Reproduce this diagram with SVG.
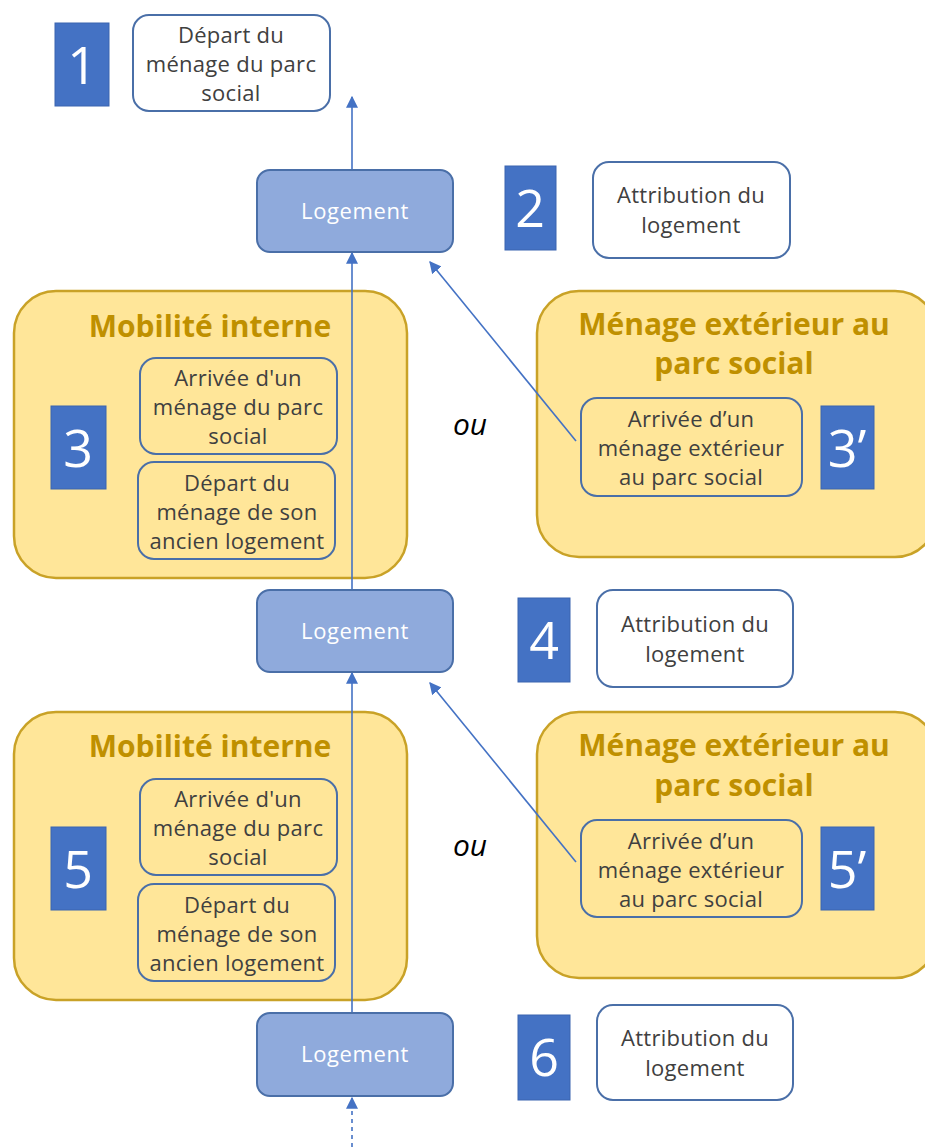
<svg xmlns="http://www.w3.org/2000/svg" width="925" height="1147" viewBox="0 0 925 1147">
<style>
.bg{fill:#ffffff}
.sq{fill:#4472C4;stroke:#3A64B0;stroke-width:1}
.num{font-family:"Open Sans","Noto Sans",sans-serif;font-size:52px;fill:#ffffff;text-anchor:middle}
.wbox{fill:#ffffff;stroke:#4A6FA8;stroke-width:2}
.ibox{fill:#FFE699;stroke:#4A6FA8;stroke-width:2}
.lbox{fill:#8FAADC;stroke:#4A6FA8;stroke-width:2}
.cont{fill:#FFE699;stroke:#C9A227;stroke-width:2.5}
.t{font-family:"Open Sans","Noto Sans",sans-serif;font-size:22px;letter-spacing:0.3px;fill:#404040;text-anchor:middle}
.lt{font-family:"Open Sans","Noto Sans",sans-serif;font-size:22px;letter-spacing:0.6px;fill:#ffffff;text-anchor:middle}
.title{font-family:"Open Sans","Noto Sans",sans-serif;font-size:30px;font-weight:bold;fill:#BF9000;text-anchor:middle}
.ou{font-family:"Open Sans","Noto Sans",sans-serif;font-size:30px;font-style:italic;fill:#000000;text-anchor:middle}
.conn{stroke:#4472C4;stroke-width:1.6;fill:none}
</style>
<defs>
<marker id="ah2" viewBox="0 0 10 10" refX="9" refY="5" markerWidth="12" markerHeight="12" markerUnits="userSpaceOnUse" orient="auto">
<path d="M0,0 L10,5 L0,10 z" fill="#4472C4"/>
</marker>
</defs>
<rect class="bg" x="0" y="0" width="925" height="1147"/>

<g id="containers">
<g id="mob1"><rect class="cont" x="14" y="291" width="393" height="287" rx="42"/><text class="title" x="210" y="337">Mobilité interne</text></g>
<g id="ext1"><rect class="cont" x="537" y="291" width="400" height="266" rx="42"/><text class="title" x="734" y="335">Ménage extérieur au</text><text class="title" x="734" y="374">parc social</text></g>
<g id="mob2"><rect class="cont" x="14" y="712" width="393" height="288" rx="42"/><text class="title" x="210" y="757">Mobilité interne</text></g>
<g id="ext2"><rect class="cont" x="537" y="712" width="400" height="266" rx="42"/><text class="title" x="734" y="756">Ménage extérieur au</text><text class="title" x="734" y="796">parc social</text></g>
</g>

<g id="connectors">
<line class="conn" x1="352" y1="170" x2="352" y2="97" marker-end="url(#ah2)"/>
<line class="conn" x1="352" y1="590" x2="352" y2="253" marker-end="url(#ah2)"/>
<line class="conn" x1="576" y1="441" x2="430" y2="262" marker-end="url(#ah2)"/>
<line class="conn" x1="352" y1="1013" x2="352" y2="673" marker-end="url(#ah2)"/>
<line class="conn" x1="576" y1="862" x2="430" y2="683" marker-end="url(#ah2)"/>
<line class="conn" x1="352" y1="1147" x2="352" y2="1098" stroke-dasharray="4,4" marker-end="url(#ah2)"/>
</g>

<g id="s1"><rect class="sq" x="55" y="23" width="54" height="83"/><text class="num" x="82" y="84">1</text></g>
<g id="n1"><rect class="wbox" x="133" y="15" width="197" height="96" rx="16"/><text class="t" x="231" y="43">Départ du</text><text class="t" x="231" y="72">ménage du parc</text><text class="t" x="231" y="101">social</text></g>

<g id="log1"><rect class="lbox" x="257" y="170" width="196" height="82" rx="13"/><text class="lt" x="355" y="219">Logement</text></g>
<g id="s2"><rect class="sq" x="505" y="166" width="51" height="84"/><text class="num" x="530" y="227">2</text></g>
<g id="n2"><rect class="wbox" x="593" y="162" width="197" height="96" rx="16"/><text class="t" x="691" y="203">Attribution du</text><text class="t" x="691" y="233">logement</text></g>

<g id="s3"><rect class="sq" x="51" y="406" width="55" height="83"/><text class="num" x="78" y="467">3</text></g>
<g id="a3"><rect class="ibox" x="140" y="358" width="197" height="96" rx="16"/><text class="t" x="238" y="386">Arrivée d'un</text><text class="t" x="238" y="415">ménage du parc</text><text class="t" x="238" y="444">social</text></g>
<g id="d3"><rect class="ibox" x="138" y="462" width="197" height="97" rx="16"/><text class="t" x="237" y="491">Départ du</text><text class="t" x="237" y="520">ménage de son</text><text class="t" x="237" y="549">ancien logement</text></g>
<g id="ou1"><text class="ou" x="470" y="435">ou</text></g>
<g id="e3"><rect class="ibox" x="581" y="398" width="221" height="98" rx="16"/><text class="t" x="691" y="427">Arrivée d’un</text><text class="t" x="691" y="456">ménage extérieur</text><text class="t" x="691" y="485">au parc social</text></g>
<g id="s3p"><rect class="sq" x="821" y="406" width="53" height="83"/><text class="num" x="847" y="467">3’</text></g>

<g id="log2"><rect class="lbox" x="257" y="590" width="196" height="82" rx="13"/><text class="lt" x="355" y="639">Logement</text></g>
<g id="s4"><rect class="sq" x="518" y="598" width="52" height="84"/><text class="num" x="544" y="659">4</text></g>
<g id="n4"><rect class="wbox" x="597" y="590" width="196" height="97" rx="16"/><text class="t" x="695" y="632">Attribution du</text><text class="t" x="695" y="662">logement</text></g>

<g id="s5"><rect class="sq" x="51" y="827" width="55" height="83"/><text class="num" x="78" y="888">5</text></g>
<g id="a5"><rect class="ibox" x="140" y="779" width="197" height="96" rx="16"/><text class="t" x="238" y="807">Arrivée d'un</text><text class="t" x="238" y="836">ménage du parc</text><text class="t" x="238" y="865">social</text></g>
<g id="d5"><rect class="ibox" x="138" y="884" width="197" height="97" rx="16"/><text class="t" x="237" y="913">Départ du</text><text class="t" x="237" y="942">ménage de son</text><text class="t" x="237" y="971">ancien logement</text></g>
<g id="ou2"><text class="ou" x="470" y="856">ou</text></g>
<g id="e5"><rect class="ibox" x="581" y="820" width="221" height="97" rx="16"/><text class="t" x="691" y="849">Arrivée d’un</text><text class="t" x="691" y="878">ménage extérieur</text><text class="t" x="691" y="907">au parc social</text></g>
<g id="s5p"><rect class="sq" x="821" y="827" width="53" height="83"/><text class="num" x="847" y="888">5’</text></g>

<g id="log3"><rect class="lbox" x="257" y="1013" width="196" height="83" rx="13"/><text class="lt" x="355" y="1062">Logement</text></g>
<g id="s6"><rect class="sq" x="518" y="1015" width="52" height="85"/><text class="num" x="544" y="1076">6</text></g>
<g id="n6"><rect class="wbox" x="597" y="1005" width="196" height="95" rx="16"/><text class="t" x="695" y="1046">Attribution du</text><text class="t" x="695" y="1076">logement</text></g>
</svg>
